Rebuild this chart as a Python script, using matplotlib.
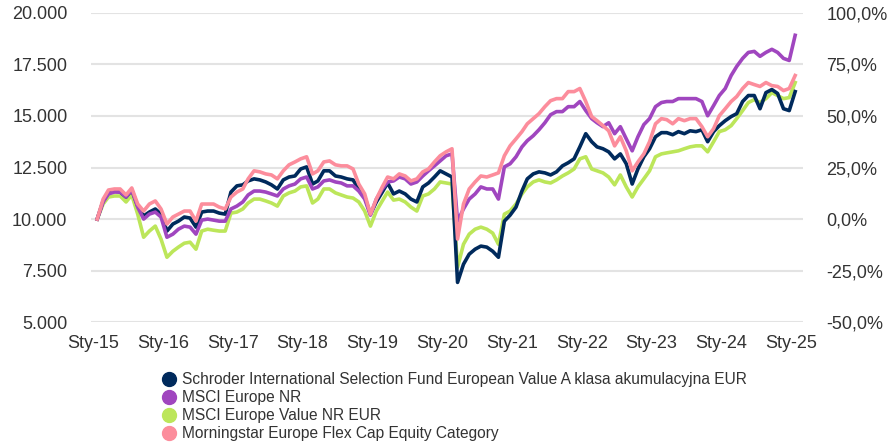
import numpy as np
import pandas as pd
import matplotlib
matplotlib.use('Agg')
import matplotlib.pyplot as plt
from matplotlib.lines import Line2D

plt.rcParams['font.family'] = ['Liberation Sans', 'DejaVu Sans']

# monthly values, Jan 2015 .. Jan 2025 (start = 10.000)
fund = [10000, 10880, 11270, 11360, 11310, 11070, 11410, 10630, 10150, 10340, 10490, 10240,
        9420, 9760, 9900, 10100, 10050, 9610, 10340, 10390, 10390, 10290, 10240, 11310,
        11610, 11660, 11850, 11950, 11900, 11800, 11660, 11460, 11900, 12040, 12090, 12430,
        12530, 11700, 11850, 12340, 12340, 12090, 12040, 11950, 11900, 11460, 11070, 10240,
        10830, 11310, 11750, 11220, 11360, 11220, 10970, 10830, 11560, 11750, 12040, 12340,
        12190, 12040, 6930, 7810, 8300, 8540, 8690, 8640, 8440, 8150, 9900, 10190,
        10580, 11360, 11950, 12190, 12290, 12240, 12140, 12290, 12580, 12730, 12920, 13500,
        14140, 13750, 13500, 13410, 13260, 12920, 13160, 12680, 11700, 12430, 13020, 13410,
        13990, 14190, 14190, 14090, 14240, 14140, 14280, 14240, 14330, 13750, 14240, 14530,
        14770, 14970, 15110, 15700, 15990, 15990, 15350, 16130, 16280, 16090, 15350, 15260, 16180]

msci_europe = [10000, 10830, 11220, 11310, 11310, 11070, 11410, 10580, 10000, 10240, 10340, 10100,
               9120, 9270, 9510, 9660, 9610, 9270, 9950, 10000, 9950, 9900, 9900, 10490,
               10630, 10830, 11170, 11360, 11360, 11310, 11220, 11120, 11460, 11610, 11700, 11950,
               12040, 11460, 11560, 11850, 11900, 11800, 11750, 11610, 11610, 11360, 10970, 10190,
               10970, 11460, 11800, 11850, 12040, 11950, 11700, 11800, 12090, 12340, 12580, 12820,
               13070, 13160, 9900, 10490, 10970, 11220, 11560, 11460, 11460, 10970, 12530, 12680,
               13020, 13500, 13800, 14040, 14330, 14670, 15060, 15210, 15210, 15450, 15450, 15700,
               15260, 14870, 14670, 14480, 14670, 14140, 14480, 13890, 13310, 13990, 14580, 14870,
               15450, 15650, 15700, 15700, 15840, 15840, 15840, 15840, 15700, 15010, 15500, 15990,
               16330, 16960, 17400, 17790, 18080, 18130, 17890, 18080, 18230, 18080, 17790, 17690, 18910]

msci_value = [10000, 10730, 11070, 11120, 11120, 10830, 11170, 10240, 9120, 9420, 9660, 9030,
              8150, 8440, 8640, 8830, 8880, 8540, 9420, 9510, 9460, 9420, 9420, 10290,
              10340, 10490, 10780, 10970, 10970, 10880, 10780, 10630, 11120, 11270, 11360, 11560,
              11610, 10780, 10970, 11460, 11460, 11270, 11170, 11070, 11020, 10830, 10390, 9660,
              10390, 10880, 11310, 10920, 10970, 10830, 10580, 10390, 11120, 11220, 11460, 11800,
              11750, 11700, 7660, 8780, 9270, 9510, 9610, 9510, 9320, 8780, 10240, 10390,
              10730, 11220, 11560, 11800, 11900, 11800, 11750, 11900, 12090, 12240, 12430, 12920,
              13020, 12430, 12340, 12240, 12040, 11660, 12140, 11560, 11070, 11560, 11950, 12340,
              13020, 13160, 13210, 13260, 13310, 13410, 13500, 13550, 13550, 13260, 13750, 14240,
              14330, 14530, 14870, 15260, 15650, 15790, 15650, 15840, 16130, 15990, 15840, 15890, 16620]

category = [10000, 10970, 11410, 11460, 11460, 11170, 11510, 10730, 10390, 10730, 10880, 10490,
            9760, 10100, 10240, 10390, 10390, 9900, 10730, 10730, 10730, 10580, 10490, 11070,
            11310, 11460, 11950, 12340, 12290, 12190, 12140, 11950, 12340, 12630, 12770, 12920,
            13020, 12190, 12340, 12770, 12820, 12630, 12580, 12580, 12430, 11700, 11220, 10240,
            10970, 11560, 12040, 11950, 12190, 12090, 11850, 11950, 12290, 12430, 12770, 13070,
            13260, 13410, 9030, 10730, 11460, 11800, 12090, 12040, 12140, 12240, 13070, 13550,
            13890, 14240, 14620, 14870, 15110, 15450, 15740, 15840, 15840, 16180, 16180, 16330,
            15700, 14970, 14770, 14530, 14280, 13550, 13990, 13310, 12340, 12770, 13160, 13750,
            14620, 14870, 14820, 14620, 14870, 14770, 14870, 14870, 14480, 13990, 14380, 15010,
            15350, 15700, 15940, 16330, 16620, 16520, 16430, 16620, 16470, 16430, 16230, 16330, 16960]

labels = ['Schroder International Selection Fund European Value A klasa akumulacyjna EUR',
          'MSCI Europe NR',
          'MSCI Europe Value NR EUR',
          'Morningstar Europe Flex Cap Equity Category']
colors = ['#002a5c', '#a046bf', '#bce65a', '#fc8d9c']

dates = pd.date_range('2015-01-01', periods=len(fund), freq='MS') + pd.Timedelta(days=21)
years = pd.date_range('2015-01-01', '2025-01-01', freq='YS')
year_labels = ['Sty-%02d' % (d.year % 100) for d in years]

left_ticks = [5000, 7500, 10000, 12500, 15000, 17500, 20000]
left_labels = ['5.000', '7.500', '10.000', '12.500', '15.000', '17.500', '20.000']
right_ticks = [-50, -25, 0, 25, 50, 75, 100]
right_labels = ['-50,0%', '-25,0%', '0,0%', '25,0%', '50,0%', '75,0%', '100,0%']

fig = plt.figure(figsize=(8.93, 4.42), dpi=100)
ax = fig.add_axes([0.102, 0.271, 0.797, 0.700])

series = [fund, msci_europe, msci_value, category]
order = [2, 0, 1, 3]
for i in order:
    ax.plot(dates, series[i], color=colors[i], lw=2.6, solid_joinstyle='round', zorder=3 + order.index(i))

ax.set_ylim(5000, 20000)
ax.set_xlim(pd.Timestamp('2014-12-21'), pd.Timestamp('2025-03-03'))
ax.set_yticks(left_ticks)
ax.set_yticklabels(left_labels)
ax.set_xticks(years)
ax.set_xticklabels(year_labels)
ax.grid(axis='y', color='#e3e3e3', lw=1.5, zorder=0)
for s in ax.spines.values():
    s.set_visible(False)
ax.tick_params(axis='both', length=0, labelsize=13, colors='#333333')
ax.tick_params(axis='y', pad=17)
ax.tick_params(axis='x', pad=9)

ax2 = ax.twinx()
ax2.set_ylim(-50, 100)
ax2.set_yticks(right_ticks)
ax2.set_yticklabels(right_labels)
for s in ax2.spines.values():
    s.set_visible(False)
ax2.tick_params(axis='y', length=0, labelsize=13, colors='#333333', pad=17)

handles = [Line2D([], [], ls='none', marker='o', markersize=10, color=c) for c in colors]
fig.legend(handles, labels, loc='upper left', bbox_to_anchor=(0.172, 0.176),
           frameon=False, fontsize=11.2, labelspacing=0.2, handlelength=1.0,
           handletextpad=0.3, borderpad=0, labelcolor='#333333')

fig.savefig('out.png', dpi=100)
